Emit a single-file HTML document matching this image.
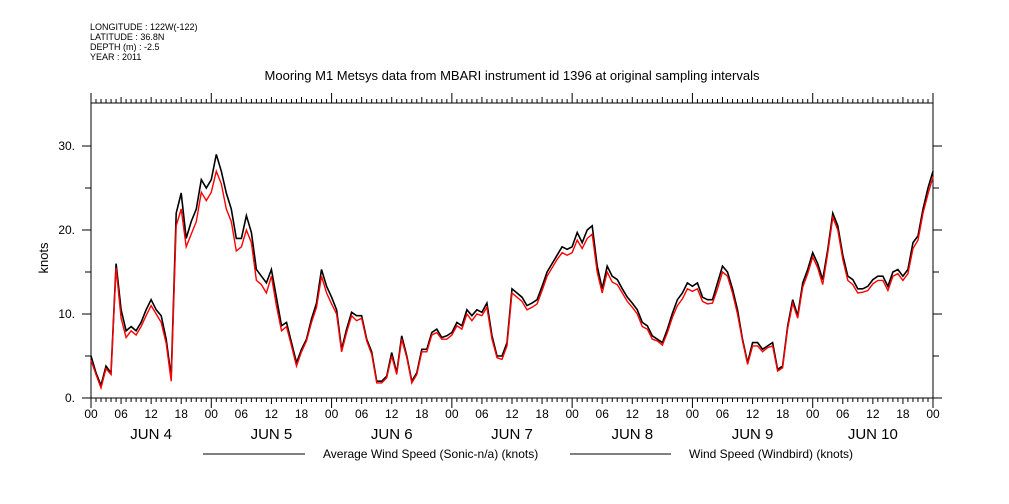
<!DOCTYPE html>
<html><head><meta charset="utf-8"><style>
body{margin:0;background:#fff;width:1009px;height:504px;overflow:hidden}
svg{display:block;font-family:"Liberation Sans",sans-serif}
</style></head><body>
<svg id="chart" width="1009" height="504" xmlns="http://www.w3.org/2000/svg">
<g font-size="9" fill="#000">
<text x="90" y="30">LONGITUDE : 122W(-122)</text>
<text x="90" y="40">LATITUDE : 36.8N</text>
<text x="90" y="50">DEPTH (m) : -2.5</text>
<text x="90" y="60">YEAR : 2011</text>
</g>
<text x="512" y="80" font-size="13" text-anchor="middle">Mooring M1 Metsys data from MBARI instrument id 1396 at original sampling intervals</text>
<text x="0" y="0" font-size="13" text-anchor="middle" transform="translate(48,258) rotate(-90)">knots</text>
<g id="axes"></g>
<g id="series"></g>
<g font-size="12">
<line x1="203" y1="454" x2="305" y2="454" stroke="#000"/>
<text x="323" y="458">Average Wind Speed (Sonic-n/a) (knots)</text>
<line x1="570" y1="454" x2="671" y2="454" stroke="#000"/>
<text x="689" y="458">Wind Speed (Windbird) (knots)</text>
</g>
</svg>
<script>
const sonic = [5,3,1.5,3.8,3,16,10.5,8,8.5,8,
9,10.5,11.7,10.5,9.8,7,2.5,22,24.4,19,
21,22.5,26,25,26,29,27,24.4,22.5,19,
19,21.7,19.7,15.3,14.5,13.7,15.3,12,8.6,9,
6.6,4.2,5.8,7,9.4,11.3,15.3,13.3,12,10.5,
5.8,8.2,10.2,9.8,9.8,7,5.5,2,2,2.6,
5.4,3,7.4,5,2,3,5.8,5.8,7.8,8.2,
7.2,7.4,7.8,9,8.6,10.5,9.8,10.5,10.2,11.3,
7.4,5,5,6.6,13,12.5,12,11,11.3,11.7,
13.3,15,16,17,18,17.7,18,19.7,18.5,20,
20.5,15.7,13,15.7,14.5,14.1,13,12,11.3,10.5,
9,8.6,7.4,7,6.6,8.2,10.1,11.7,12.5,13.7,
13.3,13.7,12,11.7,11.7,13.7,15.7,15,13,10.5,
7,4.2,6.6,6.6,5.8,6.2,6.6,3.4,3.8,8.6,
11.7,9.8,13.7,15.3,17.3,16,14.1,17.7,22,20.5,
17,14.5,14.1,13,13,13.3,14.1,14.5,14.5,13.3,
15,15.3,14.5,15.3,18.5,19.3,22.5,25,27];
const windbird = [4.5,2.8,1.2,3.5,2.8,15.5,9.5,7.2,8,7.5,
8.5,9.8,11,10,9,6.5,2,20.5,22.5,18,
19.5,21,24.5,23.5,24.5,27,25.5,22.5,21,17.5,
18,20,18.5,14,13.5,12.5,14.5,11,8,8.5,
6.2,3.8,5.5,6.8,9,10.8,14.5,12.5,11.2,10,
5.5,7.8,9.8,9.2,9.5,6.8,5.2,1.8,1.8,2.4,
5,2.8,7,4.8,1.8,2.8,5.5,5.5,7.5,7.8,
7,7,7.5,8.6,8.2,10,9.2,10,9.8,10.8,
7,4.8,4.6,6.2,12.5,12,11.5,10.5,10.8,11.2,
12.8,14.5,15.5,16.5,17.3,17,17.3,18.8,17.8,19,
19.5,15,12.5,15,13.8,13.5,12.5,11.5,10.8,10,
8.5,8.2,7,6.8,6.3,7.8,9.6,11,11.8,13,
12.7,13,11.5,11.2,11.3,13,15,14.5,12.5,10,
6.8,4,6.2,6.2,5.5,6,6.2,3.2,3.6,8.3,
11.3,9.5,13.2,14.8,16.8,15.5,13.5,17.3,21.5,20,
16.5,14,13.5,12.5,12.6,12.8,13.6,14,14,12.8,
14.5,14.8,14,14.8,17.8,18.8,22,24.3,26.3];
const yTicks = [0,5,10,15,20,25,30];
const yLabels = ["0.","","10.","","20.","","30."];
const hourLabels = ["00","06","12","18"];
const dayLabels = ["JUN  4","JUN  5","JUN  6","JUN  7","JUN  8","JUN  9","JUN 10"];

const X0=91, X1=933, Y0=398, YT=103, H=168;
const xs = h => X0 + h*(X1-X0)/H;
const ys = v => Y0 - v*8.4;
const NS="http://www.w3.org/2000/svg";
function mk(tag, attrs, parent){const e=document.createElementNS(NS,tag);for(const k in attrs)e.setAttribute(k,attrs[k]);parent.appendChild(e);return e;}
const ax=document.getElementById('axes');
let fr=mk('rect',{x:X0,y:YT,width:X1-X0,height:Y0-YT,fill:'none',stroke:'#000','stroke-width':1},ax);


yTicks.forEach((v,i)=>{
  const len = yLabels[i] ? 9 : 6;
  let t=mk('line',{x1:X0-len,x2:X0,y1:ys(v),y2:ys(v),stroke:'#000'},ax);
  
  
  let t2=mk('line',{x1:X1,x2:X1+len,y1:ys(v),y2:ys(v),stroke:'#000'},ax);
  
  
  if(yLabels[i]){
    let l=mk('text',{x:X0-16,y:ys(v)+4,'font-size':12,'text-anchor':'end'},ax);
    l.textContent=yLabels[i];
    
    
  }
});
for(let h=0;h<=H;h++){
  const maj = h%24===0, mid = h%6===0;
  const len = maj?10:(mid?6:4);
  let b=mk('line',{x1:xs(h),x2:xs(h),y1:Y0,y2:Y0+len,stroke:'#000'},ax);
  
  
  let t=mk('line',{x1:xs(h),x2:xs(h),y1:YT-len,y2:YT,stroke:'#000'},ax);
  
  
  if(mid){
    let l=mk('text',{x:xs(h),y:418,'font-size':12,'text-anchor':'middle'},ax);
    l.textContent=hourLabels[(h%24)/6];
    
    
  }
}
dayLabels.forEach((d,i)=>{
  let l=mk('text',{x:xs(i*24+12),y:439,'font-size':15,'text-anchor':'middle','xml:space':'preserve'},ax);
  l.textContent=d;
  
  
});
const sg=document.getElementById('series');
function draw(arr,color,name,w){
  let d=arr.map((v,i)=>(i?'L':'M')+xs(i).toFixed(1)+' '+ys(v).toFixed(1)).join(' ');
  let p=mk('path',{d:d,fill:'none',stroke:color,'stroke-width':w},sg);
  
  
}
draw(sonic,'#000','series-sonic-line',1.6);
draw(windbird,'#f00','series-windbird-line',1.4);
</script>
</body></html>
